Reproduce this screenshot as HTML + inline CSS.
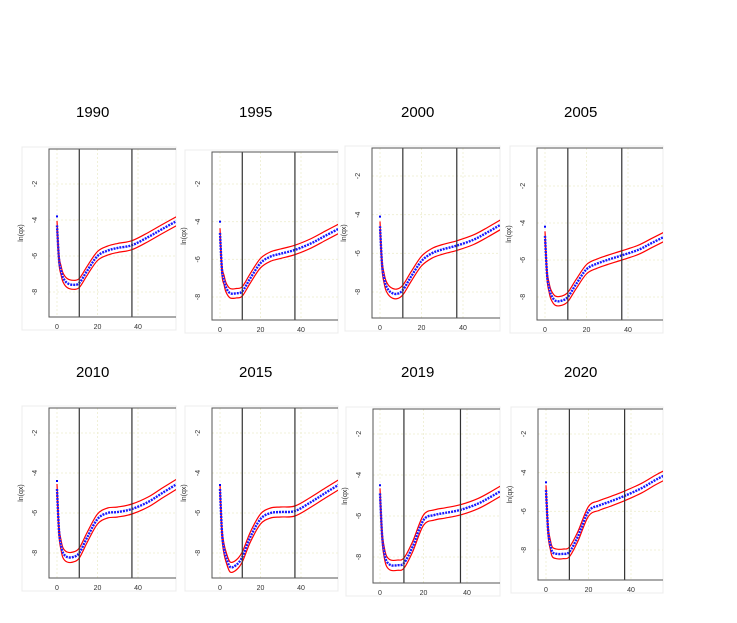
<!DOCTYPE html>
<html><head><meta charset="utf-8"><style>
body{margin:0;background:#fff;width:737px;height:623px;overflow:hidden;font-family:"Liberation Sans",sans-serif}
.t{position:absolute;font-size:15px;color:#000}
</style></head><body>
<div class="t" style="left:76px;top:104px">1990</div>
<div class="t" style="left:239px;top:104px">1995</div>
<div class="t" style="left:401px;top:104px">2000</div>
<div class="t" style="left:564px;top:104px">2005</div>
<div class="t" style="left:76px;top:364px">2010</div>
<div class="t" style="left:239px;top:364px">2015</div>
<div class="t" style="left:401px;top:364px">2019</div>
<div class="t" style="left:564px;top:364px">2020</div>
<svg id="c" width="737" height="623" style="position:absolute;left:0;top:0" xmlns="http://www.w3.org/2000/svg"></svg>
<script>
const ages=[0,1,2,3,5,8,11,15,20,25,30,37,45,52,60];
const s1990=[-4.3,-6.2,-6.8,-7.2,-7.5,-7.6,-7.5,-6.8,-6.0,-5.7,-5.55,-5.4,-4.95,-4.5,-4.0];
const s1995=[-4.6,-6.6,-7.1,-7.5,-7.8,-7.8,-7.7,-7.0,-6.2,-5.85,-5.7,-5.5,-5.15,-4.75,-4.3];
const s2000=[-4.6,-6.6,-7.3,-7.7,-8.0,-8.1,-7.9,-7.2,-6.4,-6.0,-5.8,-5.6,-5.3,-4.9,-4.4];
const s2005=[-4.7,-6.8,-7.5,-7.9,-8.2,-8.2,-8.0,-7.3,-6.5,-6.2,-6.0,-5.75,-5.45,-5.05,-4.6];
const s2010=[-4.8,-6.9,-7.6,-8.0,-8.2,-8.2,-8.0,-7.2,-6.3,-6.0,-5.95,-5.8,-5.45,-5.0,-4.5];
const s2015=[-4.8,-7.0,-7.8,-8.2,-8.7,-8.6,-8.2,-7.2,-6.3,-6.0,-5.95,-5.9,-5.45,-5.0,-4.5];
const s2019=[-4.9,-7.0,-7.8,-8.2,-8.4,-8.4,-8.3,-7.5,-6.2,-5.95,-5.85,-5.7,-5.4,-5.0,-4.5];
const s2020=[-4.9,-7.0,-7.7,-8.1,-8.2,-8.2,-8.1,-7.3,-6.0,-5.7,-5.5,-5.2,-4.8,-4.35,-3.9];
const dot0=[-3.8,-4.0,-4.1,-4.2,-4.4,-4.6,-4.5,-4.5];
const years=["1990","1995","2000","2005","2010","2015","2019","2020"];
const yTicks=[-2,-4,-6,-8];
const xTicks=[0,20,40];
const vlines=[11,37];
const band=0.25;
const series=[s1990,s1995,s2000,s2005,s2010,s2015,s2019,s2020];
const geo=[
[49,149,317,176,57,138,184,292],[212,152,320,338,220,301,184,297],[372,148,318,500,380,463,176,292],[537,148,320,663,545,628,186,297],
[49,408,578,176,57,138,433,553],[212,408,578,338,220,301,433,553],[373,409,583,500,380,467,434,557],[538,409,580,663,546,631,434,550]];
const svg=document.getElementById('c');const NS="http://www.w3.org/2000/svg";
function mk(t,a,p){const e=document.createElementNS(NS,t);for(const k in a)e.setAttribute(k,a[k]);(p||svg).appendChild(e);return e;}
function path(pts){let d="M"+pts[0][0]+","+pts[0][1];for(let i=0;i<pts.length-1;i++){const p0=pts[Math.max(0,i-1)],p1=pts[i],p2=pts[i+1],p3=pts[Math.min(pts.length-1,i+2)];
d+=" C"+(p1[0]+(p2[0]-p0[0])/6)+","+(p1[1]+(p2[1]-p0[1])/6)+" "+(p2[0]-(p3[0]-p1[0])/6)+","+(p2[1]-(p3[1]-p1[1])/6)+" "+p2[0]+","+p2[1];}return d;}
series.forEach((s,i)=>{
 const [L,T,B,R,x0,x40,ym2,ym8]=geo[i];
 const X=a=>x0+(x40-x0)*a/40, Y=v=>ym2+(ym8-ym2)*(v+2)/-6;
 const g=mk('g',{});
 
 
 mk('rect',{x:L-27,y:T-2,width:R-L+27,height:B-T+15,fill:'none',stroke:'#ececec'},g);
 const cid='cl'+i;const cp=mk('clipPath',{id:cid},g);mk('rect',{x:L,y:T,width:R-L,height:B-T},cp);
 yTicks.forEach(v=>{mk('line',{x1:L,x2:R,y1:Y(v),y2:Y(v),stroke:'#f0f0d8','stroke-dasharray':'2,2'},g);
  const t=mk('text',{x:L-12,y:Y(v),'font-size':7,fill:'#333','text-anchor':'middle',transform:`rotate(-90 ${L-12} ${Y(v)})`},g);t.textContent=v;
  
  });
 xTicks.forEach(a=>{mk('line',{x1:X(a),x2:X(a),y1:T,y2:B,stroke:'#f0f0d8','stroke-dasharray':'2,2'},g);
  const t=mk('text',{x:X(a),y:B+12,'font-size':7,fill:'#333','text-anchor':'middle'},g);t.textContent=a;
  
  });
 const yl=mk('text',{x:L-26,y:(T+B)/2,'font-size':7,fill:'#333','text-anchor':'middle',transform:`rotate(-90 ${L-26} ${(T+B)/2})`},g);yl.textContent='ln(qx)';
 
 
 const pg=mk('g',{'clip-path':`url(#${cid})`},g);
 [band,-band].forEach(d=>{const p=mk('path',{d:path(ages.map((a,k)=>[X(a),Y(s[k]+d)])),fill:'none',stroke:'#f00','stroke-width':1.2},pg);
  
  });
 const c=mk('path',{d:path(ages.map((a,k)=>[X(a),Y(s[k])])),fill:'none',stroke:'#1a1aff','stroke-width':2.4,'stroke-dasharray':'2,1'},pg);
 
 
 const d0=mk('rect',{x:X(0)-1,y:Y(dot0[i])-1,width:2,height:2,fill:'#00f'},pg);
 
 
 vlines.forEach(a=>{const l=mk('line',{x1:X(a),x2:X(a),y1:T,y2:B,stroke:'#333','stroke-width':1.2},g);
  
  });
 mk('path',{d:`M${R},${T}H${L}V${B}H${R}`,fill:'none',stroke:'#555','stroke-width':1},g);
});
</script>
</body></html>
